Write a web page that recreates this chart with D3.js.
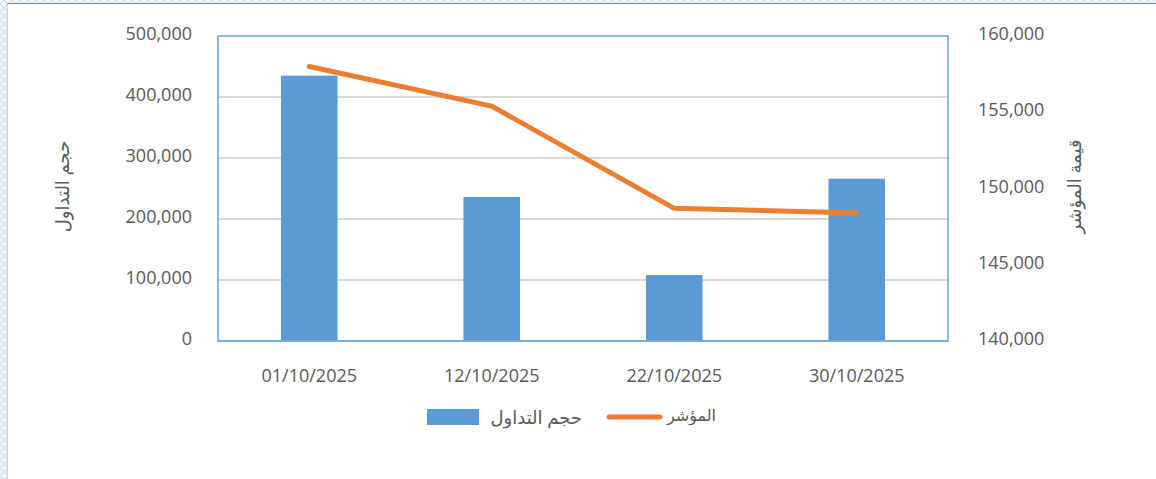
<!DOCTYPE html>
<html>
<head>
<meta charset="utf-8">
<script src="https://cdn.jsdelivr.net/npm/d3@7"></script>
<style>
  html, body { margin: 0; padding: 0; background: #fff; }
  svg { display: block; font-family: "Open Sans", "DejaVu Sans", sans-serif; }
</style>
</head>
<body>
<div id="chart"></div>
<script>
var dates = ["01/10/2025", "12/10/2025", "22/10/2025", "30/10/2025"];
var volume = [435000, 236000, 108000, 266000];
var indexValue = [158000, 155400, 148700, 148400];
var leftTicks = [0, 100000, 200000, 300000, 400000, 500000];
var rightTicks = [140000, 145000, 150000, 155000, 160000];

var W = 1156, H = 479;
var margin = {top: 36, right: 208, bottom: 138, left: 218},
  width = W - margin.left - margin.right,
  height = H - margin.top - margin.bottom;

var textColor = "#595959";
var fontFam = '"Open Sans", "DejaVu Sans", sans-serif';
var fmt = d3.format(",");

var svg = d3.select("#chart").append("svg")
  .attr("width", W).attr("height", H);

// page border strips
var defs = svg.append("defs");
var pat = defs.append("pattern").attr("id", "hatch")
  .attr("width", 8).attr("height", 8).attr("patternUnits", "userSpaceOnUse");
pat.append("rect").attr("width", 8).attr("height", 8).attr("fill", "#f2f7fc");
pat.append("path").attr("d", "M0,4 L4,0 L8,4 L4,8 Z")
  .attr("fill", "none").attr("stroke", "#cfe1f3").attr("stroke-width", 1.2);
svg.append("rect").attr("x", 0).attr("y", 0).attr("width", 7).attr("height", H).attr("fill", "url(#hatch)");
svg.append("rect").attr("x", 0).attr("y", 0).attr("width", W).attr("height", 3).attr("fill", "url(#hatch)");
svg.append("line").attr("x1", 7.5).attr("x2", 7.5).attr("y1", 3).attr("y2", H)
  .attr("stroke", "#d4d4d4").attr("stroke-width", 1);
svg.append("line").attr("x1", 7).attr("x2", W).attr("y1", 3.5).attr("y2", 3.5)
  .attr("stroke", "#8a8a8a").attr("stroke-width", 1);

var g = svg.append("g")
  .attr("transform", "translate(" + margin.left + "," + margin.top + ")");

var x = d3.scaleBand().domain(dates).range([0, width]).paddingInner(0).paddingOuter(0);
var yL = d3.scaleLinear().domain([0, 500000]).range([height, 0]);
var yR = d3.scaleLinear().domain([140000, 160000]).range([height, 0]);

// gridlines
g.selectAll(".grid").data(leftTicks.slice(1, -1)).enter().append("line")
  .attr("x1", 0).attr("x2", width)
  .attr("y1", function(d) { return yL(d); })
  .attr("y2", function(d) { return yL(d); })
  .attr("stroke", "#d9d9d9").attr("stroke-width", 2);

// bars
var barW = x.bandwidth() * 0.31;
g.selectAll(".bar").data(volume).enter().append("rect")
  .attr("x", function(d, i) { return x(dates[i]) + x.bandwidth() / 2 - barW / 2; })
  .attr("y", function(d) { return yL(d); })
  .attr("width", barW)
  .attr("height", function(d) { return height - yL(d); })
  .attr("fill", "#5b9bd5");

// bottom axis line
g.append("line").attr("x1", 0).attr("x2", width).attr("y1", height).attr("y2", height)
  .attr("stroke", "#c5d3e3").attr("stroke-width", 2);

// plot frame
g.append("rect").attr("x", 0).attr("y", 0).attr("width", width).attr("height", height)
  .attr("fill", "none").attr("stroke", "#5b9bd5").attr("stroke-width", 1.5)
  .attr("stroke-opacity", 0.9);

// line
var line = d3.line()
  .x(function(d, i) { return x(dates[i]) + x.bandwidth() / 2; })
  .y(function(d) { return yR(d); });
g.append("path").datum(indexValue)
  .attr("d", line)
  .attr("fill", "none").attr("stroke", "#ed7d31")
  .attr("stroke-width", 5).attr("stroke-linecap", "round").attr("stroke-linejoin", "round");

// left axis
var axL = g.append("g").attr("transform", "translate(-23,0)")
  .call(d3.axisLeft(yL).tickValues(leftTicks).tickFormat(fmt).tickSize(0));
axL.select(".domain").remove();
axL.selectAll("text").attr("fill", textColor).style("font-size", "18px")
  .style("font-family", fontFam).attr("dy", "0.2em");

// right axis
var axR = g.append("g").attr("transform", "translate(" + (width + 27) + ",0)")
  .call(d3.axisRight(yR).tickValues(rightTicks).tickFormat(fmt).tickSize(0));
axR.select(".domain").remove();
axR.selectAll("text").attr("fill", textColor).style("font-size", "18px")
  .style("font-family", fontFam).attr("dy", "0.2em");

// x axis
var axX = g.append("g").attr("transform", "translate(0," + height + ")")
  .call(d3.axisBottom(x).tickSize(0));
axX.select(".domain").remove();
axX.selectAll("text").attr("fill", textColor).style("font-size", "18px")
  .style("font-family", fontFam).attr("dy", "2.1em");

// axis titles
svg.append("text")
  .attr("transform", "translate(62," + (margin.top + height / 2 - 2) + ") rotate(-90)")
  .attr("text-anchor", "middle").attr("dominant-baseline", "central")
  .attr("fill", textColor).style("font-size", "18px")
  .text("حجم التداول");
svg.append("text")
  .attr("transform", "translate(1074," + (margin.top + height / 2 - 2) + ") rotate(-90)")
  .attr("text-anchor", "middle").attr("dominant-baseline", "central")
  .attr("fill", textColor).style("font-size", "18px")
  .text("قيمة المؤشر");

// legend
var leg = svg.append("g");
leg.append("rect").attr("x", 427).attr("y", 409).attr("width", 52).attr("height", 16)
  .attr("fill", "#5b9bd5");
leg.append("text").attr("x", 582).attr("y", 417)
  .attr("text-anchor", "end").attr("dominant-baseline", "central")
  .attr("fill", textColor).style("font-size", "18px")
  .text("حجم التداول");
leg.append("line").attr("x1", 609).attr("x2", 660).attr("y1", 417).attr("y2", 417)
  .attr("stroke", "#ed7d31").attr("stroke-width", 5).attr("stroke-linecap", "round");
leg.append("text").attr("x", 716).attr("y", 415)
  .attr("text-anchor", "end").attr("dominant-baseline", "central")
  .attr("fill", textColor).style("font-size", "16px")
  .text("المؤشر");
</script>
</body>
</html>
